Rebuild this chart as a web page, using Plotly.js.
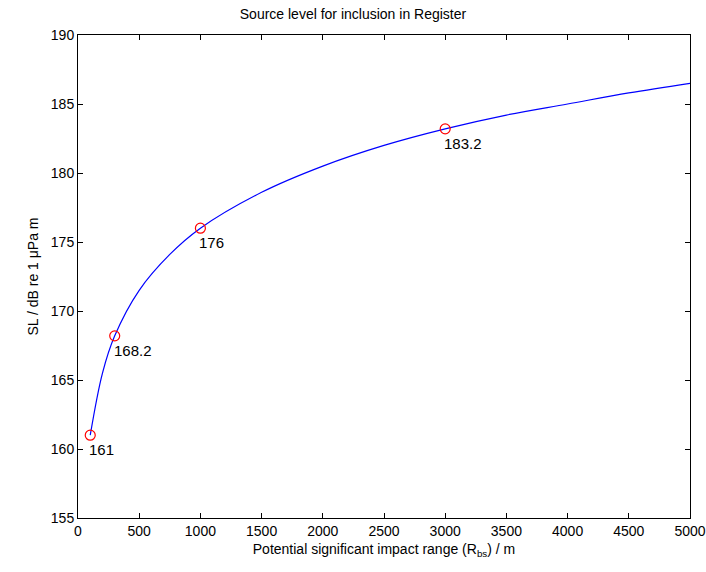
<!DOCTYPE html>
<html><head><meta charset="utf-8">
<script src="https://cdn.plot.ly/plotly-3.0.1.min.js"></script>
<style>html,body{margin:0;padding:0;background:#fff}</style>
</head><body>
<div id="chart" style="width:706px;height:572px"></div>
<script>
// curve
const rangeM = [100, 200, 300, 500, 750, 1000, 1500, 2000, 2500, 3000, 3500, 4000, 4500, 5000];
const sourceLevel = [161, 165.5, 168.2, 171.5, 174.1, 176, 178.6, 180.5, 182, 183.2, 184.2, 185.0, 185.8, 186.5];
// marked points
const markX = [100, 300, 1000, 3000];
const markY = [161, 168.2, 176, 183.2];
const markLabels = ['161', '168.2', '176', '183.2'];

const font = { family: 'Liberation Sans, Arial, sans-serif', size: 14, color: '#000' };
const axis = {
  showline: true, mirror: 'ticks', linecolor: '#000', linewidth: 1,
  ticks: 'inside', ticklen: 5, tickcolor: '#000', showgrid: false, zeroline: false,
  tickfont: { size: 14 },
};

const data = [
  { x: rangeM, y: sourceLevel, type: 'scatter', mode: 'lines',
    line: { color: '#0000ff', width: 1.2, shape: 'spline' }, hoverinfo: 'skip' },
  { x: markX, y: markY, type: 'scatter', mode: 'markers',
    marker: { symbol: 'circle-open', size: 10, color: '#ff0000', line: { width: 1.2 } } },
];

const layout = {
  width: 706, height: 572, showlegend: false, font,
  paper_bgcolor: '#fff', plot_bgcolor: '#fff',
  margin: { l: 78, r: 16, t: 35, b: 54 },
  title: { text: 'Source level for inclusion in Register', font: { size: 14 }, y: 0.975, yanchor: 'middle' },
  xaxis: Object.assign({}, axis, { range: [0, 5000], dtick: 500,
    title: { text: 'Potential significant impact range (R<sub>bs</sub>) / m', font: { size: 14 }, standoff: 6 } }),
  yaxis: Object.assign({}, axis, { range: [155, 190], dtick: 5,
    title: { text: 'SL / dB re 1 μPa m', font: { size: 14 }, standoff: 8 } }),
  annotations: markX.map((x, i) => ({
    x, y: markY[i], text: markLabels[i], showarrow: false,
    xanchor: 'left', yanchor: 'top', xshift: -3, yshift: -4, font: { size: 15 },
  })),
};

Plotly.newPlot('chart', data, layout, { displayModeBar: false, staticPlot: true });
</script>
</body></html>
